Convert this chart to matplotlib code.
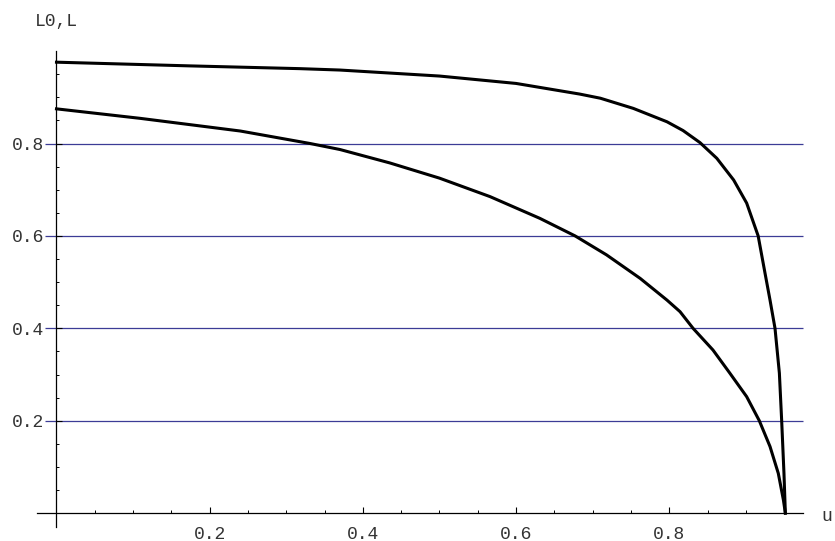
import matplotlib
matplotlib.use("Agg")
import matplotlib.pyplot as plt
from matplotlib.ticker import FixedLocator

# upper curve (L)
u_L = [0.0, 0.174, 0.318, 0.37, 0.5, 0.6, 0.683, 0.71, 0.753, 0.797, 0.818,
       0.84, 0.862, 0.884, 0.901, 0.916, 0.925, 0.9315, 0.938, 0.9437,
       0.9467, 0.9497, 0.9515]
L = [0.976, 0.968, 0.962, 0.959, 0.946, 0.930, 0.907, 0.898, 0.876, 0.847,
     0.828, 0.802, 0.768, 0.721, 0.671, 0.600, 0.519, 0.461, 0.400, 0.303,
     0.200, 0.086, 0.0]

# lower curve (L0)
u_L0 = [0.0, 0.109, 0.24, 0.331, 0.37, 0.435, 0.5, 0.566, 0.631, 0.677,
        0.718, 0.762, 0.797, 0.814, 0.831, 0.857, 0.879, 0.901, 0.9175,
        0.9315, 0.9423, 0.949, 0.9515]
L0 = [0.875, 0.8545, 0.827, 0.800, 0.787, 0.758, 0.725, 0.685, 0.638, 0.600,
      0.559, 0.508, 0.461, 0.436, 0.400, 0.353, 0.303, 0.252, 0.200, 0.144,
      0.086, 0.028, 0.0]

major = [0.2, 0.4, 0.6, 0.8]
minor = [0.05, 0.1, 0.15, 0.25, 0.3, 0.35, 0.45, 0.5, 0.55, 0.65, 0.7, 0.75,
         0.85, 0.9, 0.95]
grid_y = [0.2, 0.4, 0.6, 0.8]

fig = plt.figure(figsize=(8.35, 5.41), dpi=100)
ax = fig.add_axes([0, 0, 1, 1])
ax.set_facecolor("none")

# pixel mapping: x=0 at 56.5px, 766 px/unit ; y=0 at 513px from top, 462 px/unit
ax.set_xlim(-56.5 / 766, (835 - 56.5) / 766)
ax.set_ylim(-(541 - 513.1) / 462, 513.1 / 462)

ax.hlines(grid_y, -0.015, 0.975, color="#3c3c96", lw=0.9, zorder=1)

ax.plot(u_L, L, color="black", lw=2.2, zorder=3, solid_joinstyle="round")
ax.plot(u_L0, L0, color="black", lw=2.2, zorder=3, solid_joinstyle="round")

for s in ["top", "right"]:
    ax.spines[s].set_visible(False)
ax.spines["left"].set_position(("data", 0))
ax.spines["bottom"].set_position(("data", 0))
ax.spines["left"].set_bounds(-0.03, 1.0)
ax.spines["bottom"].set_bounds(-0.025, 0.975)
ax.spines["left"].set_linewidth(0.9)
ax.spines["bottom"].set_linewidth(0.9)

ax.xaxis.set_major_locator(FixedLocator(major))
ax.xaxis.set_minor_locator(FixedLocator(minor))
ax.yaxis.set_major_locator(FixedLocator(major))
ax.yaxis.set_minor_locator(FixedLocator(minor))
ax.set_xticklabels(["0.2", "0.4", "0.6", "0.8"])
ax.set_yticklabels(["0.2", "0.4", "0.6", "0.8"])

ax.tick_params(which="major", direction="in", length=4.5, width=0.8,
               labelsize=13, labelfontfamily="Liberation Mono",
               colors="black", labelcolor="#333333")
ax.tick_params(which="minor", direction="in", length=2.5, width=0.7)
ax.tick_params(axis="x", pad=9)
ax.tick_params(axis="y", pad=9)

ax.text(0.0, 1.064, "L0,L", fontsize=13, family="Liberation Mono",
        color="#333333", ha="center", va="center")
ax.text(0.9985, -0.008, "u", fontsize=13, family="Liberation Mono",
        color="#333333", ha="left", va="center")

fig.savefig("out.png", dpi=100)
